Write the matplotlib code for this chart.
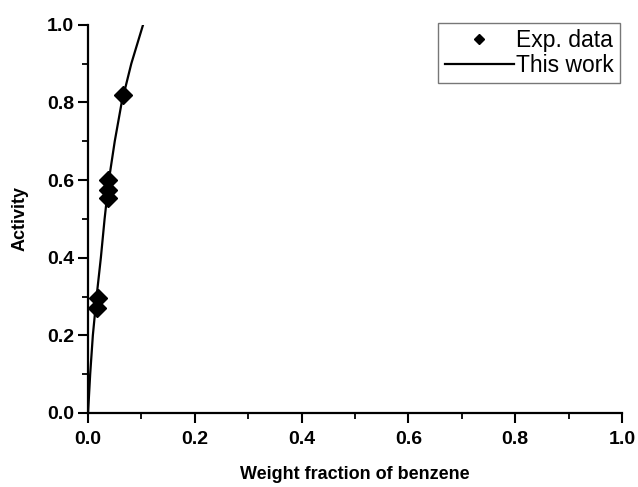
import matplotlib
matplotlib.use('Agg')
import matplotlib.pyplot as plt
from matplotlib.ticker import MultipleLocator

# Experimental points
exp_x = [0.065, 0.038, 0.038, 0.038, 0.019, 0.016]
exp_y = [0.82, 0.60, 0.575, 0.554, 0.296, 0.27]

# Model curve ("This work")
model_x = [0, 0.002, 0.004, 0.009, 0.016, 0.024, 0.031, 0.039, 0.050, 0.063, 0.081, 0.103]
model_y = [0, 0.05, 0.1, 0.2, 0.3, 0.4, 0.5, 0.6, 0.7, 0.8, 0.9, 1.0]

plt.rcParams['font.family'] = ['Liberation Sans', 'DejaVu Sans']

fig = plt.figure(figsize=(6.38, 4.87), dpi=100)
ax = fig.add_axes([0.138, 0.152, 0.837, 0.797])

ax.plot(exp_x, exp_y, 'D', color='black', markersize=9, label='Exp. data', zorder=3)
ax.plot(model_x, model_y, '-', color='black', lw=1.6, label='This work')

ax.set_xlim(0, 1.0)
ax.set_ylim(0, 1.0)
ax.xaxis.set_major_locator(MultipleLocator(0.2))
ax.xaxis.set_minor_locator(MultipleLocator(0.1))
ax.yaxis.set_major_locator(MultipleLocator(0.2))
ax.yaxis.set_minor_locator(MultipleLocator(0.1))

for side in ['top', 'right']:
    ax.spines[side].set_visible(False)
for side in ['left', 'bottom']:
    ax.spines[side].set_linewidth(1.6)

ax.tick_params(which='major', direction='out', length=7, width=1.5, labelsize=14)
ax.tick_params(axis='x', which='major', pad=6)
ax.tick_params(axis='y', which='major', pad=3)
ax.tick_params(which='minor', direction='out', length=4, width=1.3)
for t in ax.get_xticklabels() + ax.get_yticklabels():
    t.set_fontweight('bold')

ax.set_xlabel('Weight fraction of benzene', fontsize=13, fontweight='bold', labelpad=13)
ax.set_ylabel('Activity', fontsize=13, fontweight='bold', labelpad=13)

leg = ax.legend(loc='upper right', bbox_to_anchor=(0.997, 1.006), fontsize=16.5,
                frameon=True, fancybox=False, edgecolor='#555555',
                markerscale=0.55, handlelength=3.0, handletextpad=0.1,
                borderpad=0.3, labelspacing=0.05, borderaxespad=0.0)
leg.get_frame().set_linewidth(1.0)

fig.savefig('out.png', dpi=100)
